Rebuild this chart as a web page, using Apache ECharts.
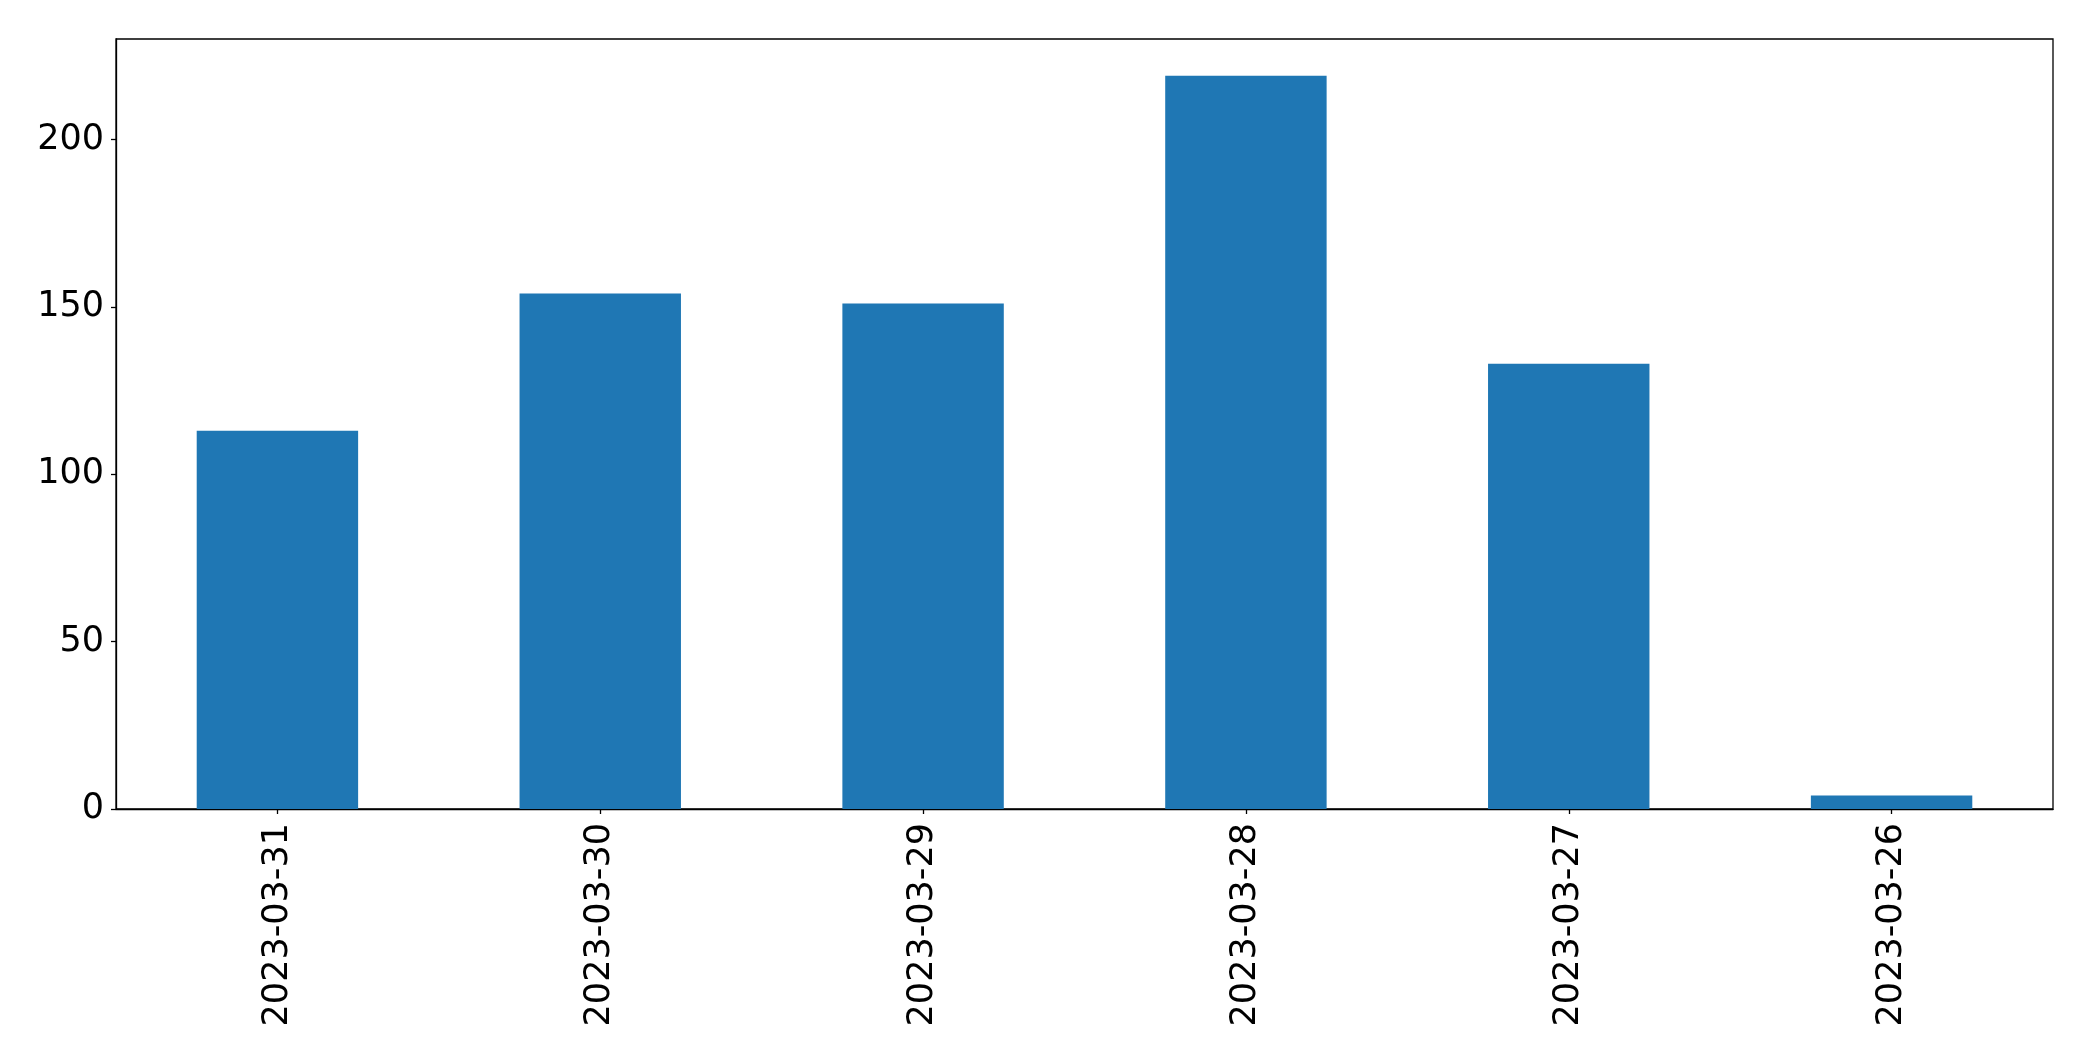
<!DOCTYPE html>
<html>
<head>
<meta charset="utf-8">
<script src="https://cdn.jsdelivr.net/npm/echarts@6/dist/echarts.min.js"></script>
<style>
html,body{margin:0;padding:0;background:#fff;}
#chart{width:2093px;height:1061px;}
</style>
</head>
<body>
<div id="chart"></div>
<script>
const categories = ['2023-03-31','2023-03-30','2023-03-29','2023-03-28','2023-03-27','2023-03-26'];
const values = [113, 154, 151, 219, 133, 4];
const yTicks = [0, 50, 100, 150, 200];

const chart = echarts.init(document.getElementById('chart'), null, {renderer:'canvas'});
chart.setOption({
  animation: false,
  backgroundColor: '#ffffff',
  textStyle: {fontFamily: 'DejaVu Sans'},
  grid: {left:116, right:40, top:39, bottom:252, show:true, borderColor:'#000', borderWidth:1.3, backgroundColor:'transparent'},
  xAxis: {
    type: 'category',
    data: categories,
    axisLine: {show:true, lineStyle:{color:'#000', width:1.3}},
    axisTick: {show:true, alignWithLabel:true, length:5, lineStyle:{color:'#000', width:1.3}},
    axisLabel: {rotate:90, color:'#000', fontSize:35, fontFamily:'DejaVu Sans', margin:14, interval:0}
  },
  yAxis: {
    type: 'value',
    min: 0, max: 230, interval: 50,
    splitLine: {show:false},
    axisLine: {show:true, lineStyle:{color:'#000', width:1.3}},
    axisTick: {show:true, length:5, customValues: yTicks, lineStyle:{color:'#000', width:1.3}},
    axisLabel: {color:'#000', fontSize:35, fontFamily:'DejaVu Sans', margin:12, customValues: yTicks}
  },
  series: [{
    type: 'bar',
    data: values,
    barWidth: '50%',
    itemStyle: {color:'#1f77b4'}
  }]
});
</script>
</body>
</html>
